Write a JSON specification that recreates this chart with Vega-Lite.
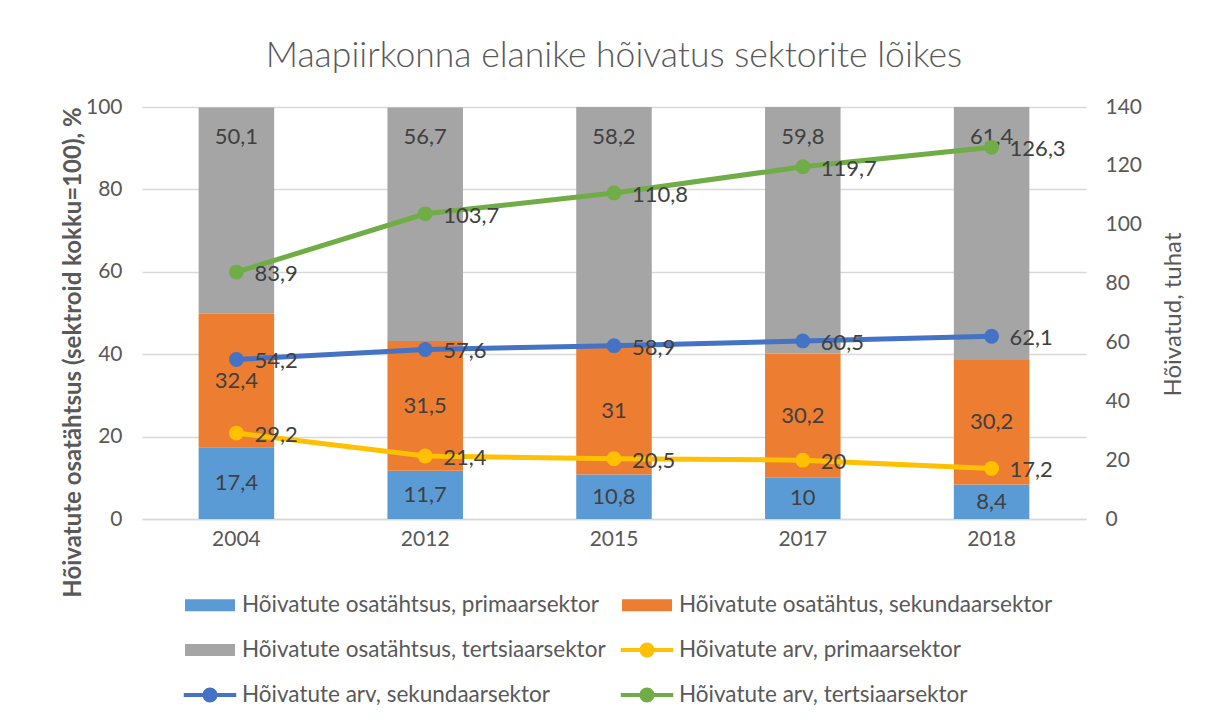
{
  "$schema": "https://vega.github.io/schema/vega-lite/v6.json",
  "width": 944,
  "height": 412,
  "autosize": {"type": "none"},
  "padding": {"left": 142, "top": 107, "right": 134, "bottom": 205},
  "background": "white",
  "title": {
    "text": "Maapiirkonna elanike hõivatus sektorite lõikes",
    "frame": "group",
    "anchor": "middle",
    "font": "Lato",
    "fontSize": 35.5,
    "fontWeight": 300,
    "color": "#595959",
    "offset": 22
  },
  "datasets": {
    "osa": [
      {"year": "2004", "series": "Hõivatute osatähtsus, primaarsektor", "rank": 1, "value": 17.4},
      {"year": "2004", "series": "Hõivatute osatähtus, sekundaarsektor", "rank": 2, "value": 32.4},
      {"year": "2004", "series": "Hõivatute osatähtsus, tertsiaarsektor", "rank": 3, "value": 50.1},
      {"year": "2012", "series": "Hõivatute osatähtsus, primaarsektor", "rank": 1, "value": 11.7},
      {"year": "2012", "series": "Hõivatute osatähtus, sekundaarsektor", "rank": 2, "value": 31.5},
      {"year": "2012", "series": "Hõivatute osatähtsus, tertsiaarsektor", "rank": 3, "value": 56.7},
      {"year": "2015", "series": "Hõivatute osatähtsus, primaarsektor", "rank": 1, "value": 10.8},
      {"year": "2015", "series": "Hõivatute osatähtus, sekundaarsektor", "rank": 2, "value": 31},
      {"year": "2015", "series": "Hõivatute osatähtsus, tertsiaarsektor", "rank": 3, "value": 58.2},
      {"year": "2017", "series": "Hõivatute osatähtsus, primaarsektor", "rank": 1, "value": 10},
      {"year": "2017", "series": "Hõivatute osatähtus, sekundaarsektor", "rank": 2, "value": 30.2},
      {"year": "2017", "series": "Hõivatute osatähtsus, tertsiaarsektor", "rank": 3, "value": 59.8},
      {"year": "2018", "series": "Hõivatute osatähtsus, primaarsektor", "rank": 1, "value": 8.4},
      {"year": "2018", "series": "Hõivatute osatähtus, sekundaarsektor", "rank": 2, "value": 30.2},
      {"year": "2018", "series": "Hõivatute osatähtsus, tertsiaarsektor", "rank": 3, "value": 61.4}
    ],
    "arv": [
      {"year": "2004", "series": "Hõivatute arv, primaarsektor", "value": 29.2},
      {"year": "2012", "series": "Hõivatute arv, primaarsektor", "value": 21.4},
      {"year": "2015", "series": "Hõivatute arv, primaarsektor", "value": 20.5},
      {"year": "2017", "series": "Hõivatute arv, primaarsektor", "value": 20},
      {"year": "2018", "series": "Hõivatute arv, primaarsektor", "value": 17.2},
      {"year": "2004", "series": "Hõivatute arv, sekundaarsektor", "value": 54.2},
      {"year": "2012", "series": "Hõivatute arv, sekundaarsektor", "value": 57.6},
      {"year": "2015", "series": "Hõivatute arv, sekundaarsektor", "value": 58.9},
      {"year": "2017", "series": "Hõivatute arv, sekundaarsektor", "value": 60.5},
      {"year": "2018", "series": "Hõivatute arv, sekundaarsektor", "value": 62.1},
      {"year": "2004", "series": "Hõivatute arv, tertsiaarsektor", "value": 83.9},
      {"year": "2012", "series": "Hõivatute arv, tertsiaarsektor", "value": 103.7},
      {"year": "2015", "series": "Hõivatute arv, tertsiaarsektor", "value": 110.8},
      {"year": "2017", "series": "Hõivatute arv, tertsiaarsektor", "value": 119.7},
      {"year": "2018", "series": "Hõivatute arv, tertsiaarsektor", "value": 126.3}
    ]
  },
  "encoding": {
    "x": {
      "field": "year",
      "type": "nominal",
      "scale": {"paddingInner": 0.6, "paddingOuter": 0.3},
      "axis": {
        "title": null,
        "labelAngle": 0,
        "labelFont": "Lato",
        "labelFontSize": 21,
        "labelColor": "#595959",
        "labelPadding": 9,
        "ticks": false,
        "domain": true,
        "domainColor": "#D9D9D9",
        "domainWidth": 1.5
      }
    }
  },
  "layer": [
    {
      "data": {"name": "osa"},
      "layer": [
        {
          "mark": {"type": "bar"},
          "encoding": {
            "y": {
              "field": "value",
              "type": "quantitative",
              "stack": "zero",
              "scale": {"domain": [0, 100], "nice": false},
              "axis": {
                "orient": "left",
                "values": [0, 20, 40, 60, 80, 100],
                "grid": true,
                "gridColor": "#D9D9D9",
                "gridWidth": 1.5,
                "domain": false,
                "ticks": false,
                "labelFont": "Lato",
                "labelFontSize": 21,
                "labelColor": "#595959",
                "labelPadding": 20,
                "title": "Hõivatute osatähtsus  (sektroid kokku=100), %",
                "titleFont": "Lato",
                "titleFontSize": 24,
                "titleFontWeight": "bold",
                "titleColor": "#595959",
                "titleAngle": 270,
                "titleAlign": "center",
                "titleBaseline": "alphabetic",
                "titleX": -62,
                "titleY": 245
              }
            },
            "color": {
              "field": "series",
              "type": "nominal",
              "scale": {
                "domain": [
                  "Hõivatute osatähtsus, primaarsektor",
                  "Hõivatute osatähtus, sekundaarsektor",
                  "Hõivatute osatähtsus, tertsiaarsektor",
                  "Hõivatute arv, primaarsektor",
                  "Hõivatute arv, sekundaarsektor",
                  "Hõivatute arv, tertsiaarsektor"
                ],
                "range": ["#5B9BD5", "#ED7D31", "#A5A5A5", "#FFC000", "#4472C4", "#70AD47"]
              },
              "legend": {
                "title": null,
                "orient": "none",
                "legendX": 43,
                "legendY": 473,
                "direction": "horizontal",
                "columns": 2,
                "symbolType": "M-1,-0.24L1,-0.24L1,0.24L-1,0.24Z",
                "symbolSize": 2500,
                "symbolStrokeWidth": 0,
                "symbolOpacity": 1,
                "labelFont": "Lato",
                "labelFontSize": 22.5,
                "labelColor": "#595959",
                "labelOffset": 7,
                "labelLimit": 0,
                "columnPadding": 14,
                "rowPadding": 8,
                "encode": {
                  "symbols": {
                    "update": {
                      "shape": [
                        {"test": "indexof(datum.value, 'osat') >= 0", "value": "M-1,-0.24L1,-0.24L1,0.24L-1,0.24Z"},
                        {"value": "M-1.05,-0.08L1.05,-0.08L1.05,0.08L-1.05,0.08Z M0.3,0A0.3,0.3 0 1 1 -0.3,0A0.3,0.3 0 1 1 0.3,0Z"}
                      ]
                    }
                  }
                }
              }
            },
            "order": {"field": "rank"}
          }
        },
        {
          "mark": {"type": "text", "font": "Lato", "fontSize": 22, "color": "#404040", "baseline": "middle"},
          "encoding": {
            "y": {"field": "value", "type": "quantitative", "stack": "zero", "bandPosition": 0.5},
            "detail": {"field": "series"},
            "order": {"field": "rank"},
            "text": {"field": "value", "type": "quantitative", "format": "~g"},
            "opacity": {"condition": {"test": "datum.rank < 3", "value": 1}, "value": 0}
          }
        },
        {
          "mark": {"type": "text", "font": "Lato", "fontSize": 22, "color": "#404040", "baseline": "middle", "dy": 30},
          "encoding": {
            "y": {"field": "value", "type": "quantitative", "stack": "zero"},
            "detail": {"field": "series"},
            "order": {"field": "rank"},
            "text": {"field": "value", "type": "quantitative", "format": "~g"},
            "opacity": {"condition": {"test": "datum.rank == 3", "value": 1}, "value": 0}
          }
        }
      ]
    },
    {
      "data": {"name": "arv"},
      "encoding": {
        "y": {
          "field": "value",
          "type": "quantitative",
          "scale": {"domain": [0, 140], "nice": false},
          "axis": {
            "orient": "right",
            "values": [0, 20, 40, 60, 80, 100, 120, 140],
            "grid": false,
            "domain": false,
            "ticks": false,
            "labelFont": "Lato",
            "labelFontSize": 21,
            "labelColor": "#595959",
            "labelPadding": 19,
            "title": "Hõivatud, tuhat",
            "titleFont": "Lato",
            "titleFontSize": 24,
            "titleFontWeight": "normal",
            "titleColor": "#595959",
            "titleAngle": 270,
            "titleAlign": "center",
            "titleBaseline": "alphabetic",
            "titleX": 94,
            "titleY": 207
          }
        },
        "color": {"field": "series", "type": "nominal"}
      },
      "layer": [
        {"mark": {"type": "line", "strokeWidth": 5}},
        {"mark": {"type": "point", "filled": true, "size": 220, "opacity": 1}},
        {
          "mark": {"type": "text", "font": "Lato", "fontSize": 22, "color": "#404040", "align": "left", "baseline": "middle", "dx": 18, "dy": 2},
          "encoding": {
            "text": {"field": "value", "type": "quantitative", "format": "~g"},
            "color": {"value": "#404040"}
          }
        }
      ]
    }
  ],
  "resolve": {"scale": {"y": "independent"}},
  "config": {
    "locale": {"number": {"decimal": ",", "thousands": " ", "grouping": [3], "currency": ["", " €"]}},
    "view": {"stroke": null}
  }
}
